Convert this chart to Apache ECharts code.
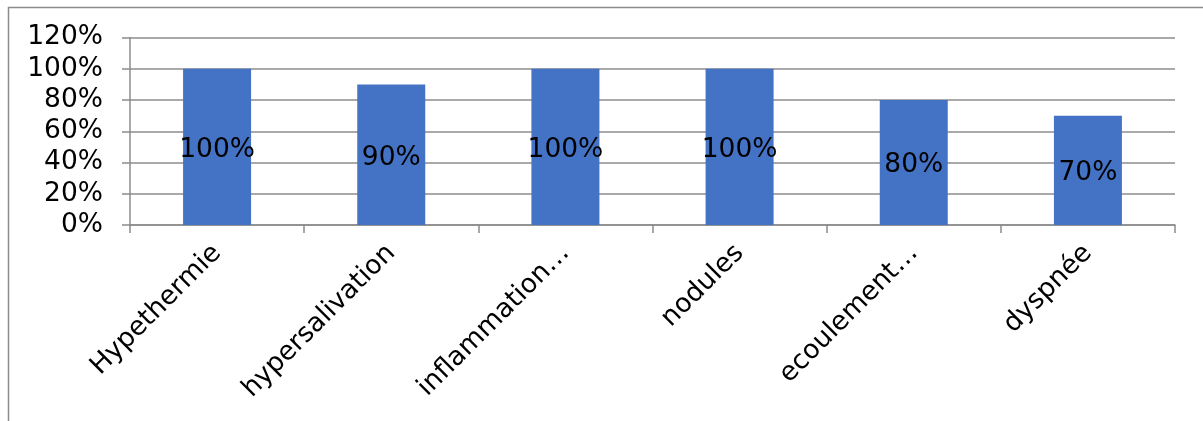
<!DOCTYPE html>
<html><head><meta charset="utf-8">
<script src="https://cdn.jsdelivr.net/npm/echarts@6/dist/echarts.min.js"></script>
<style>html,body{margin:0;padding:0;background:#fff}#c{width:1203px;height:421px}</style>
</head><body><div id="c"></div>
<script>
const categories = ['Hypethermie', 'hypersalivation', 'inflammation…', 'nodules', 'ecoulement…', 'dyspnée'];
const values = [100, 90, 100, 100, 80, 70];
const yTicks = [0, 20, 40, 60, 80, 100, 120];

const font = 'DejaVu Sans, Verdana, sans-serif';
const chart = echarts.init(document.getElementById('c'), null, {renderer: 'canvas'});
chart.setOption({
  animation: false,
  backgroundColor: '#fff',
  graphic: [{
    type: 'polyline', silent: true,
    shape: {points: [[8.5, 430], [8.5, 7.5], [1210, 7.5]]},
    style: {stroke: '#8c8c8c', lineWidth: 1.5, fill: null}
  }],
  grid: {left: 130, right: 28, top: 37.5, bottom: 196, containLabel: false},
  xAxis: {
    type: 'category',
    data: categories,
    axisLine: {lineStyle: {color: '#8c8c8c', width: 1.5}},
    axisTick: {show: true, length: 8, alignWithLabel: false, lineStyle: {color: '#8c8c8c', width: 1.5}},
    axisLabel: {rotate: 45, margin: 24, fontFamily: font, fontSize: 26.5, color: '#000', interval: 0}
  },
  yAxis: {
    type: 'value',
    min: yTicks[0], max: yTicks[yTicks.length - 1], interval: 20,
    axisLine: {show: true, lineStyle: {color: '#8c8c8c', width: 1.5}},
    axisTick: {show: true, length: 8, lineStyle: {color: '#8c8c8c', width: 1.5}},
    splitLine: {show: true, lineStyle: {color: '#8c8c8c', width: 1.5}},
    axisLabel: {formatter: '{value}%', margin: 27, fontFamily: font, fontSize: 26.5, color: '#000'}
  },
  series: [{
    type: 'bar',
    data: values,
    barWidth: 68,
    itemStyle: {color: '#4472C4'},
    label: {show: true, position: 'inside', offset: [0, 3], formatter: '{c}%', fontFamily: font, fontSize: 26.5, color: '#000'}
  }]
});
</script></body></html>
